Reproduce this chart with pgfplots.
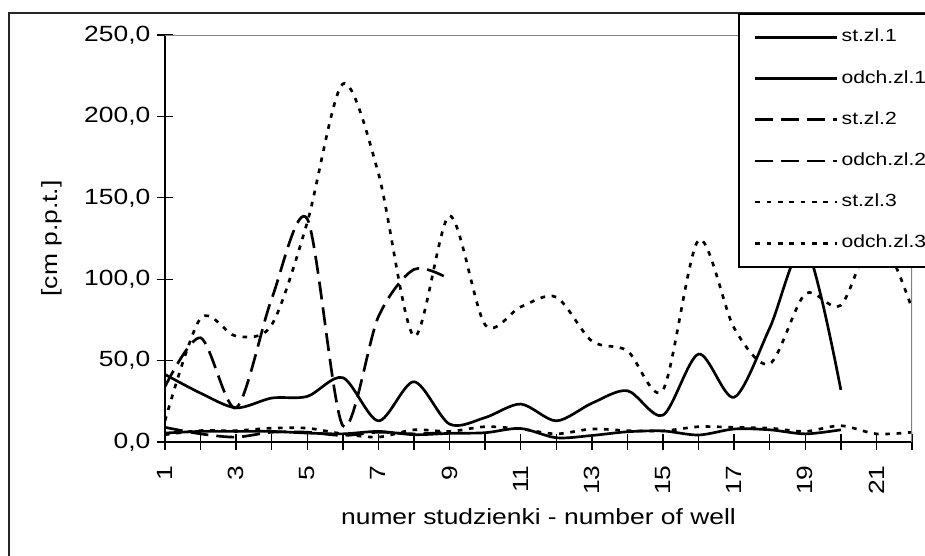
\documentclass[border=0pt]{standalone}
\usepackage{fontspec}
\setmainfont{Liberation Sans}[FakeStretch=1.2]
\usepackage{pgfplots}
\usepackage{pgfplotstable}
\pgfplotsset{compat=1.18}
\definecolor{axgray}{RGB}{128,128,128}

\pgfplotstableread{
x y
1 41.5
2 30
3 21
4 27
5 28
6 39.5
7 13
8 37
9 11
10 15
11 23.3
12 13
13 23.8
14 31.5
15 16.5
16 54
17 27.5
18 70
19 120
20 32
}\stA

\pgfplotstableread{
x y
1 5.5
2 6.5
3 6.5
4 6.5
5 5.5
6 5
7 6.5
8 4.5
9 5.3
10 5.7
11 8.3
12 2.6
13 4
14 6.3
15 6.8
16 4.3
17 8
18 7.5
19 5
20 7.5
}\odA

\pgfplotstableread{
x y
1 34
2 64
3 21
4 88
5 137
6 10
7 77
8 106
9 100
}\stB

\pgfplotstableread{
x y
1 9
2 5
3 3
4 6
5 6
6 4
7 6
8 5
9 6
}\odB

\pgfplotstableread{
x y
1 13
2 76
3 65
4 72
5 135
6 220
7 165
8 65
9 139
10 72
11 83
12 89
13 62
14 56
15 32
16 124
17 70
18 48
19 91
20 84
21 128
22 82
}\stC

\pgfplotstableread{
x y
1 4.5
2 7
3 7
4 8.5
5 8.5
6 5
7 3
8 7.5
9 6.5
10 9.4
11 8
12 5
13 8
14 7
15 6.8
16 9.4
17 9
18 8.5
19 6.5
20 10
21 5
22 6
}\odC

\tikzset{
  solidser/.style={black, line width=2pt, smooth},
  dashser/.style={black, line width=2pt, smooth, dash pattern=on 13.5pt off 6pt},
  dotser/.style={black, line width=2pt, smooth, dash pattern=on 3.5pt off 5pt},
}

\begin{document}
\begin{tikzpicture}
\useasboundingbox (0,0) rectangle (693.75pt,-417pt);
\clip (0,0) rectangle (693.75pt,-417pt);
\draw[line width=1.2pt, black!85] (6.75pt,-9.75pt) rectangle (712pt,-432pt);
\begin{axis}[
  at={(123.75pt,-331.5pt)}, anchor=south west,
  scale only axis, width=560.25pt, height=305.25pt,
  xmin=1, xmax=22, ymin=0, ymax=250,
  axis lines*=left,
  axis line style={line width=1.5pt, black},
  xtick={1,...,22},
  xticklabels={\mbox{1},,\mbox{3},,\mbox{5},,\mbox{7},,\mbox{9},,\mbox{11},,\mbox{13},,\mbox{15},,\mbox{17},,\mbox{19},,\mbox{21},},
  ytick={0,50,100,150,200,250},
  yticklabels={\mbox{0,0},\mbox{50,0},\mbox{100,0},\mbox{150,0},\mbox{200,0},\mbox{250,0}},
  tick align=center, major tick length=12pt,
  tick style={line width=1pt, black},
  ticklabel style={font=\fontsize{16.5}{16.5}\selectfont},
  xticklabel style={rotate=90, anchor=east, xshift=-8pt},
  yticklabel style={anchor=east, xshift=-1.5pt},
  xlabel={numer studzienki - number of well},
  ylabel={[cm p.p.t.]},
  label style={font=\fontsize{16.5}{16.5}\selectfont},
  xlabel style={at={(axis description cs:0.5,-0.183)}, anchor=center},
  ylabel style={at={(axis description cs:-0.152,0.5)}, anchor=center},
  legend style={
    at={(axis description cs:0.7671,1.0541)}, anchor=north west,
    draw=black, line width=1.5pt, fill=white,
    inner xsep=11.25pt, inner ysep=11pt,
    row sep=17.9pt, column sep=2.25pt,
    font=\fontsize{13.2}{13.2}\selectfont,
    nodes={inner sep=0pt, text height=10pt, text depth=3pt},
  },
  legend cell align=left,
  legend image code/.code={\draw[#1, line width=2pt] (0pt,0pt) -- (61.5pt,0pt);},
]
\addplot[solidser] table {\stA};
\addlegendentry{st.zl.1}
\addplot[solidser] table {\odA};
\addlegendentry{odch.zl.1}
\addplot[dashser] table {\stB};
\addlegendentry{st.zl.2}
\addplot[dashser] table {\odB};
\addlegendentry{odch.zl.2}
\addplot[dotser] table {\stC};
\addlegendentry{st.zl.3}
\addplot[dotser] table {\odC};
\addlegendentry{odch.zl.3}
\draw[line width=1.5pt, axgray] (rel axis cs:0,1) -- (rel axis cs:1,1) -- (rel axis cs:1,0);
\end{axis}
\end{tikzpicture}
\end{document}
